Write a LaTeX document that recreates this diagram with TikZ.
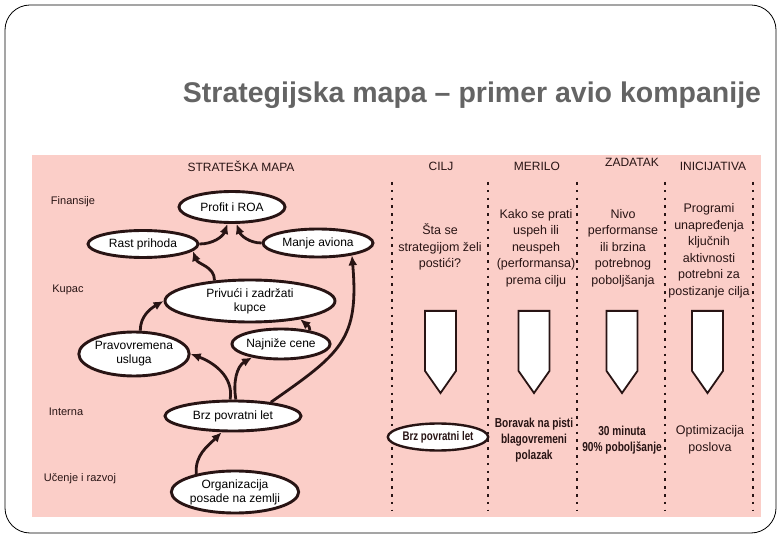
\documentclass[tikz,border=0pt]{standalone}
\usepackage{fontspec}
\setmainfont{Liberation Sans}
\newfontfamily\narrowfont[FakeStretch=0.78]{Liberation Sans}
\usetikzlibrary{shapes.geometric, shapes.symbols, arrows.meta}
\definecolor{rosebg}{RGB}{251,206,200}
\definecolor{ink}{RGB}{40,20,20}
\definecolor{titlegray}{RGB}{100,100,100}
\tikzset{
goal/.style={
	ellipse,
	draw=ink,
	line width=2.9pt,
	fill=white,
	inner sep=0pt,
	align=center,
	font=\fontsize{12}{14}\selectfont
},
arrow/.style={
	-{Latex[length=10pt,width=9pt]},
	draw=ink,
	line width=2.8pt
},
lane/.style={
	draw=ink,
	line width=2.6pt,
	dash pattern=on 2.6pt off 5.2pt
},
pointer/.style={
	signal,
	signal to=south,
	signal pointer angle=70,
	draw=ink,
	line width=1.8pt,
	fill=white,
	minimum width=31pt,
	minimum height=60pt,
	inner sep=0pt
},
coltext/.style={
	align=center,
	text=ink,
	font=\fontsize{12.5}{16.5}\selectfont
},
boldtext/.style={
	align=center,
	text=ink,
	font=\narrowfont\bfseries\fontsize{13}{16}\selectfont
}
}

\begin{document}
\begin{tikzpicture}[
  x=1pt, y=1pt,
  layer/.style={text=ink, font=\fontsize{11}{13}\selectfont},
  head/.style={text=ink, font=\fontsize{12}{14}\selectfont}
]
\useasboundingbox (0,0) rectangle (780,-540);
\draw[black, line width=0.8pt, rounded corners=25pt] (5,-5) rectangle (776,-533);
\fill[rosebg] (32,-155) rectangle (761,-517);

\node (Title) [text=titlegray, font=\bfseries\fontsize{28.5}{30}\selectfont] at (472,-95)
  {Strategijska mapa -- primer avio kompanije};

% perspectives
\node (Mapa)     [head]  at (241,-166) {STRATEŠKA MAPA};
\node (Finansije)[layer] at (73,-202)  {Finansije};
\node (Kupac)    [layer] at (68,-290)  {Kupac};
\node (Interna)  [layer] at (66,-412)  {Interna};
\node (Ucenje)   [layer] at (80,-479)  {Učenje i razvoj};

% strategy map
\node (ROA)     [goal, minimum width=106pt, minimum height=31pt] at (232,-207) {Profit i ROA};
\node (Rast)    [goal, minimum width=110pt, minimum height=27pt] at (143,-244) {Rast prihoda};
\node (Manje)   [goal, minimum width=110pt, minimum height=28pt] at (318,-243) {Manje aviona};
\node (Privuci) [goal, minimum width=170pt, minimum height=42pt] at (250,-301) {Privući i zadržati\\kupce};
\node (Prav)    [goal, minimum width=104pt, minimum height=44pt] at (134,-354) {Pravovremena\\usluga};
\node (Najnize) [goal, minimum width=96pt,  minimum height=30pt] at (281,-344) {Najniže cene};
\node (Brz)     [goal, minimum width=136pt, minimum height=30pt] at (233,-416) {Brz povratni let};
\node (Org)     [goal, minimum width=118pt, minimum height=42pt] at (235,-492) {Organizacija\\posade na zemlji};

% cause and effect
\draw[arrow] (Rast.east)    to[out=0, in=250]  (ROA.255);
\draw[arrow] (Manje.west)   to[out=180, in=290] (ROA.285);
\draw[arrow] (Privuci.150)  to[out=90, in=-70]  (Rast.-8);
\draw[arrow] (Prav.75)      to[out=90, in=210]  (Privuci.west);
\draw[arrow] (Najnize.25)   to[out=90, in=-40]  (Privuci.-20);
\draw[arrow] (Brz.100)      to[out=80, in=-20]  (Prav.east);
\draw[arrow] (Brz.80)       to[out=100, in=210] (Najnize.205);
\draw[arrow] (Org.155)      to[out=95, in=225]  (Brz.235);
\draw[arrow] (Brz.20)       to[out=35, in=-85, looseness=1.3] (Manje.-20);

% columns
\foreach \x in {392,488,577,665,753}
  \draw[lane] (\x,-182) -- (\x,-510);

\node (Cilj)        [head] at (441,-166) {CILJ};
\node (Merilo)      [head] at (537,-166) {MERILO};
\node (Zadatak)     [head] at (632,-162) {ZADATAK};
\node (Inicijativa) [head] at (713,-166) {INICIJATIVA};

\node (Sta)      [coltext] at (440,-247) {Šta se\\strategijom želi\\postići?};
\node (Kako)     [coltext] at (536,-248) {Kako se prati\\uspeh ili\\neuspeh\\(performansa)\\prema cilju};
\node (Nivo)     [coltext] at (623,-248) {Nivo\\performanse\\ili brzina\\potrebnog\\poboljšanja};
\node (Programi) [coltext] at (709,-251) {Programi\\unapređenja\\ključnih\\aktivnosti\\potrebni za\\postizanje cilja};

\node (P1) [pointer, anchor=north] at (440.5,-310) {};
\node (P2) [pointer, anchor=north] at (534,-310) {};
\node (P3) [pointer, anchor=north] at (622,-310) {};
\node (P4) [pointer, anchor=north] at (707.5,-310) {};

\node (BrzLet)  [ellipse, draw=ink, line width=2.4pt, fill=white, inner sep=0pt,
  minimum width=93pt, minimum height=27pt, boldtext, font=\narrowfont\bfseries\fontsize{12.5}{14}\selectfont]
  at (438,-437) {Brz povratni let};
\node (Boravak) [boldtext] at (534,-440) {Boravak na pisti\\blagovremeni\\polazak};
\node (Minuta)  [boldtext] at (622,-440) {30 minuta\\90\% poboljšanje};
\node (Optim)   [coltext]  at (710,-440) {Optimizacija\\poslova};

\end{tikzpicture}
\end{document}
